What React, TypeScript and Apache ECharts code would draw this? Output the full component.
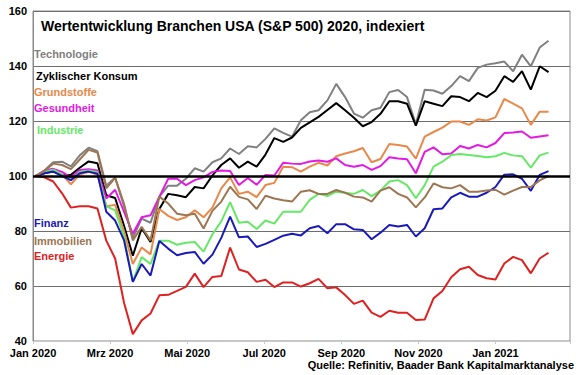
import React, { useEffect, useRef } from "react";
import * as echarts from "echarts";

const startDate = "2020-01-03";
const axisStart = "2020-01-01";
const axisEnd = "2021-03-01";
const monthLabels = ["Jan 2020", "Mrz 2020", "Mai 2020", "Jul 2020", "Sep 2020", "Nov 2020", "Jan 2021"];
const yTicks = [40, 60, 80, 100, 120, 140, 160];

const technologie = [100, 102, 105, 105.2, 103.5, 107.5, 110.3, 109, 96.5, 99.5, 89, 77.5, 84.5, 83, 92.5, 96.5, 96.5, 99, 102.8, 101.6, 105, 106.4, 110, 108, 110.8, 110.4, 113.5, 117.3, 115.7, 114.3, 120.3, 123.2, 123.9, 127.5, 133.5, 128.7, 122.7, 121.2, 123.9, 124.8, 130.5, 131.3, 128.7, 118.8, 131.4, 131.1, 129.9, 132.7, 136.3, 134.5, 139.3, 140.5, 141, 141.6, 138.1, 144.1, 139.9, 146.7, 149.2];
const zyklischerKonsum = [100, 101, 101.6, 100.4, 100.4, 103, 105.3, 104.6, 93, 92, 82, 71, 81, 76, 88, 93.5, 93, 92.3, 96, 95.5, 100.2, 104, 106.4, 103, 105.2, 103.4, 107.8, 113.8, 112.4, 114, 117.5, 119.5, 121.5, 124, 126.5, 123.9, 121.2, 118.1, 119.6, 122.6, 127.2, 127.2, 126.3, 118.3, 127.2, 126.3, 125.4, 129, 128.7, 127.2, 130.2, 128.7, 131, 136.3, 134.2, 138.1, 131.4, 139.9, 137.8];
const grundstoffe = [100, 101.5, 102.5, 100.5, 97, 100.5, 101.5, 100.5, 89, 89.5, 80, 68, 74, 71.5, 88, 85.5, 84, 85, 87.5, 85, 88.5, 95.5, 99.5, 93.5, 94.3, 92.3, 96.7, 97.5, 103.4, 103.2, 101.6, 103.4, 104.8, 103.8, 107.2, 108.2, 109, 110.2, 105, 106.2, 111.6, 111.3, 110.7, 106.3, 114.3, 116, 117.6, 119.8, 119.8, 118.6, 120.6, 120.2, 121.3, 128, 126.3, 124.6, 118.6, 123.4, 123.4];
const gesundheit = [100, 102, 102.6, 101.5, 99.5, 102.2, 102.5, 102, 91.8, 95, 87, 79, 85, 85.7, 92.4, 99, 99, 96.7, 98.5, 99.5, 101.5, 102, 101.8, 96.7, 99.3, 96.8, 100.4, 100.2, 104.8, 104.5, 104.4, 105.3, 105.6, 105.2, 106.4, 104, 103.4, 104, 102.2, 103.6, 106.8, 106.4, 106.1, 101, 108.8, 110.4, 107.9, 108.2, 110.9, 110, 111.3, 110.4, 112, 115.6, 115.8, 116.2, 113.9, 114.4, 114.8];
const industrie = [100, 101.5, 102.3, 100.5, 98.5, 101.5, 102, 101.4, 89, 87.5, 78, 61.5, 70.5, 68, 76.5, 76.5, 75, 75.7, 76, 72.5, 78.8, 83.5, 90.5, 83, 83.4, 80.7, 83.8, 82.7, 87, 87, 87, 91.3, 93.5, 92.7, 94.3, 93.9, 93.5, 94.9, 92.7, 94.7, 98, 98.5, 96.7, 91.9, 96.7, 103.4, 105.2, 107.6, 108, 107.6, 107.3, 106.8, 107.2, 108.4, 107.5, 107.2, 103, 107.5, 108.5];
const finanz = [100, 101, 101.6, 100, 98.5, 101, 101.6, 100.8, 87, 83.8, 76.7, 61.5, 68, 63.8, 76.4, 73.6, 71.2, 72, 72.4, 68.1, 71.4, 77.5, 85.2, 77.7, 78, 74.2, 75.3, 76.8, 78.3, 79, 78.4, 81, 81.8, 79.2, 82.5, 82.5, 80.6, 80.4, 77, 79.4, 82.2, 81.6, 82.2, 78, 81, 87.9, 88.2, 92.2, 93.9, 92.5, 92.5, 93.9, 96, 100.5, 100.6, 99, 94.6, 100.4, 101.8];
const immobilien = [100, 101.8, 104.5, 104, 102.5, 106, 109.5, 108.5, 95.5, 99.3, 90, 76.6, 81.5, 76.6, 92.5, 90, 86.3, 85.7, 86.3, 80.9, 87.3, 90.7, 96.1, 92.4, 91.5, 88, 92.8, 91.8, 91.2, 90.7, 94.3, 94.8, 93.5, 93.5, 94.9, 93.9, 92.5, 92.2, 90.7, 94.7, 95.9, 93.5, 92.2, 88.6, 92.2, 97.3, 95.9, 95.5, 96.7, 94.3, 94.3, 94.7, 95, 93.2, 94.7, 96, 96, 98.4, 100];
const energie = [100, 99.5, 98, 93.7, 88.5, 89, 89, 88.2, 76.5, 70, 54, 42.5, 47.5, 50, 56.6, 56.8, 58.2, 59.7, 64.5, 59.6, 63.3, 63.6, 74, 66, 65, 61.5, 62.3, 59.6, 61.3, 61.3, 59.8, 61, 62.6, 59.2, 59.5, 56.7, 53.5, 54.7, 50.3, 48.8, 51, 50.3, 50.3, 47.6, 47.8, 55.5, 58.2, 63.2, 66.1, 67, 64, 62.8, 62.4, 68.2, 70.6, 69.4, 64.6, 70, 72.1];

const seriesDefs = [
  { name: "Technologie", data: technologie, color: "#808080", labelTop: 48 },
  { name: "Zyklischer Konsum", data: zyklischerKonsum, color: "#000000", labelTop: 70 },
  { name: "Grundstoffe", data: grundstoffe, color: "#E8884A", labelTop: 86 },
  { name: "Gesundheit", data: gesundheit, color: "#E21AE2", labelTop: 102 },
  { name: "Industrie", data: industrie, color: "#66E866", labelTop: 124 },
  { name: "Finanz", data: finanz, color: "#1A1AB8", labelTop: 217 },
  { name: "Immobilien", data: immobilien, color: "#9C7652", labelTop: 235 },
  { name: "Energie", data: energie, color: "#DE2222", labelTop: 250 },
];

const DAY = 86400000;
const dayOf = (s: string) => Math.round((Date.parse(s + "T00:00:00Z") - Date.parse(axisStart + "T00:00:00Z")) / DAY);
const firstDay = dayOf(startDate);
const lastDay = dayOf(axisEnd);
const xDays = technologie.map((_, i) => firstDay + 7 * i);

const FONT = "Liberation Sans";

export default function App() {
  const ref = useRef<HTMLDivElement>(null);
  useEffect(() => {
    if (!ref.current) return;
    const chart = echarts.init(ref.current, undefined, { renderer: "svg" });
    const series: any[] = seriesDefs.map((s) => ({
      name: s.name,
      type: "line",
      data: s.data.map((v, i) => [xDays[i], v]),
      showSymbol: false,
      symbol: "none",
      lineStyle: { color: s.color, width: 2 },
      itemStyle: { color: s.color },
      z: 3,
    }));
    series.push({
      type: "line",
      data: [],
      silent: true,
      z: 2,
      markLine: {
        silent: true,
        symbol: "none",
        label: { show: false },
        lineStyle: { color: "#000", width: 2.5, type: "solid" },
        data: [{ yAxis: 100 }],
      },
    });
    chart.setOption({
      animation: false,
      backgroundColor: "#fff",
      textStyle: { fontFamily: FONT },
      grid: { left: 33, right: 10, top: 11, bottom: 34, show: true, borderColor: "#8a8a8a", borderWidth: 1 },
      title: {
        text: "Wertentwicklung Branchen USA (S&P 500) 2020, indexiert",
        left: 36,
        top: 14,
        textStyle: { fontSize: 14, fontWeight: "bold", color: "#000", fontFamily: FONT },
      },
      xAxis: {
        type: "value",
        min: 0,
        max: lastDay,
        interval: 61,
        axisLine: { show: true, lineStyle: { color: "#c8c8c8" } },
        axisTick: { show: true, length: 3, lineStyle: { color: "#c8c8c8" } },
        splitLine: { show: false },
        axisLabel: {
          margin: 6,
          fontSize: 11,
          fontWeight: "bold",
          color: "#000",
          fontFamily: FONT,
          formatter: (v: number) => {
            const idx = Math.round(v / 61);
            return Math.abs(v - idx * 61) < 0.5 && idx < monthLabels.length ? monthLabels[idx] : "";
          },
        },
      },
      yAxis: {
        type: "value",
        min: yTicks[0],
        max: yTicks[yTicks.length - 1],
        interval: 20,
        axisLine: { show: true, lineStyle: { color: "#8a8a8a" } },
        axisTick: { show: false },
        splitLine: { show: true, lineStyle: { color: "#6e6e6e", width: 1 } },
        axisLabel: { margin: 6, fontSize: 11, fontWeight: "bold", color: "#000", fontFamily: FONT },
      },
      graphic: [
        ...seriesDefs.map((s) => ({
          type: "text",
          left: s.name === "Industrie" ? 37 : s.name === "Zyklischer Konsum" ? 36 : 34,
          top: s.labelTop,
          style: { text: s.name, fill: s.color, fontFamily: FONT, fontSize: 11, fontWeight: "bold" },
          z: 10,
        })),
        {
          type: "text",
          right: 6,
          top: 359,
          style: {
            text: "Quelle: Refinitiv, Baader Bank Kapitalmarktanalyse",
            fill: "#000",
            fontFamily: FONT,
            fontSize: 11,
            fontWeight: "bold",
          },
          z: 10,
        },
      ],
      series,
    });
    return () => chart.dispose();
  }, []);
  return <div ref={ref} style={{ position: "absolute", left: 0, top: 0, width: 580, height: 375 }} />;
}
